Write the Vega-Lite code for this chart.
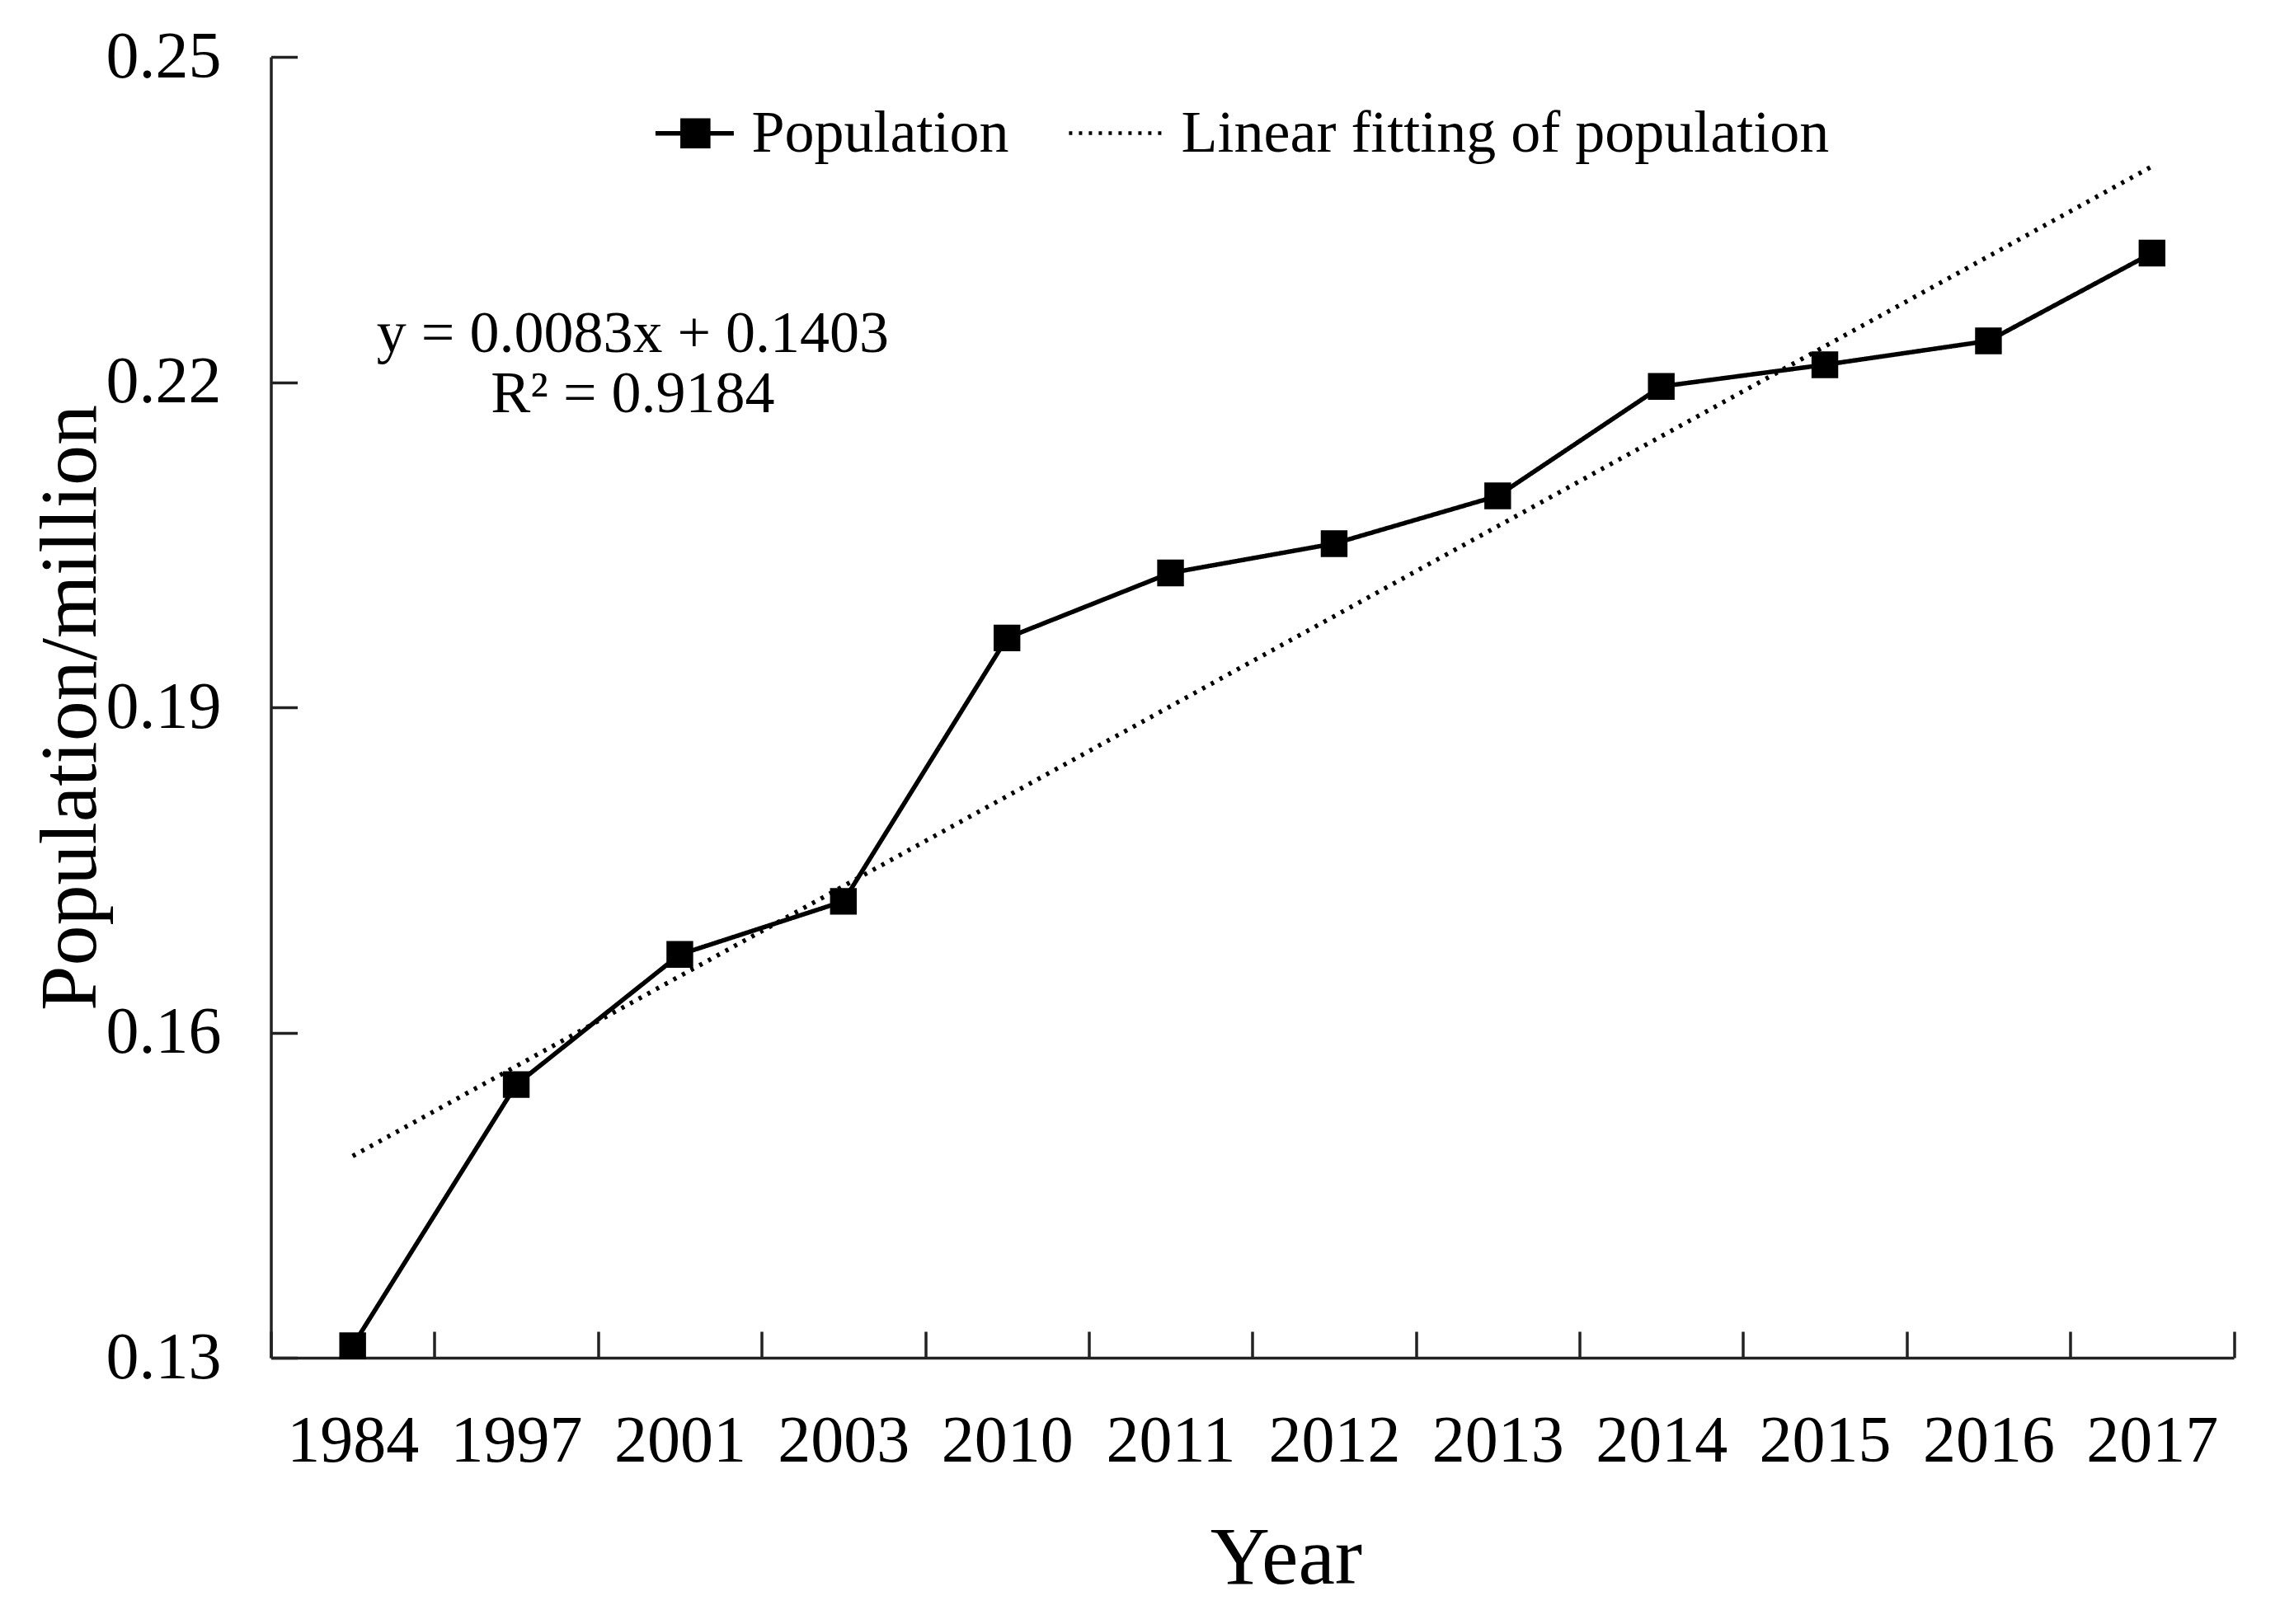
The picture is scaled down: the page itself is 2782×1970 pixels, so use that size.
{
  "$schema": "https://vega.github.io/schema/vega-lite/v6.json",
  "width": 2380.5,
  "height": 1578,
  "autosize": {"type": "none"},
  "padding": {"left": 328.5, "top": 69, "right": 73, "bottom": 323},
  "background": "white",
  "config": {
    "font": "Liberation Serif",
    "view": {"stroke": null},
    "axis": {"grid": false, "labelFont": "Liberation Serif", "titleFont": "Liberation Serif", "labelColor": "black", "titleColor": "black", "titleFontWeight": "normal", "domainColor": "#222", "tickColor": "#222", "domainWidth": 3.5, "tickWidth": 3.5, "labelLimit": 1000}
  },
  "data": {
    "values": [
      {"year": "1984", "series": "Population", "value": 0.1311},
      {"year": "1997", "series": "Population", "value": 0.1552},
      {"year": "2001", "series": "Population", "value": 0.1672},
      {"year": "2003", "series": "Population", "value": 0.1721},
      {"year": "2010", "series": "Population", "value": 0.1964},
      {"year": "2011", "series": "Population", "value": 0.2024},
      {"year": "2012", "series": "Population", "value": 0.2051},
      {"year": "2013", "series": "Population", "value": 0.2095},
      {"year": "2014", "series": "Population", "value": 0.2196},
      {"year": "2015", "series": "Population", "value": 0.2216},
      {"year": "2016", "series": "Population", "value": 0.2238},
      {"year": "2017", "series": "Population", "value": 0.2319},
      {"year": "1984", "series": "Linear fitting of population", "value": 0.1486},
      {"year": "1997", "series": "Linear fitting of population", "value": 0.1569},
      {"year": "2001", "series": "Linear fitting of population", "value": 0.1652},
      {"year": "2003", "series": "Linear fitting of population", "value": 0.1735},
      {"year": "2010", "series": "Linear fitting of population", "value": 0.1818},
      {"year": "2011", "series": "Linear fitting of population", "value": 0.1901},
      {"year": "2012", "series": "Linear fitting of population", "value": 0.1984},
      {"year": "2013", "series": "Linear fitting of population", "value": 0.2067},
      {"year": "2014", "series": "Linear fitting of population", "value": 0.2150},
      {"year": "2015", "series": "Linear fitting of population", "value": 0.2233},
      {"year": "2016", "series": "Linear fitting of population", "value": 0.2316},
      {"year": "2017", "series": "Linear fitting of population", "value": 0.2399}
    ]
  },
  "encoding": {
    "x": {
      "field": "year", "type": "ordinal", "sort": null,
      "scale": {"type": "band", "paddingInner": 0, "paddingOuter": 0},
      "axis": {"title": "Year", "labelAngle": 0, "labelFontSize": 80, "titleFontSize": 100, "tickBand": "extent", "tickSize": -32, "labelPadding": 94, "titleX": 1231, "titleY": 273, "titleBaseline": "alphabetic", "titleAnchor": "start", "titleAlign": "center"}
    },
    "y": {
      "field": "value", "type": "quantitative",
      "scale": {"domain": [0.13, 0.25], "zero": false, "nice": false},
      "axis": {"title": "Population/million", "values": [0.13, 0.16, 0.19, 0.22, 0.25], "format": ".2f", "labelFontSize": 80, "titleFontSize": 98, "tickSize": -32, "labelPadding": 92.5, "titleX": -213.5, "titleBaseline": "alphabetic"}
    }
  },
  "layer": [
    {
      "mark": {"type": "line", "color": "black", "strokeWidth": 5.5},
      "encoding": {
        "strokeDash": {
          "field": "series", "type": "nominal",
          "scale": {"domain": ["Population", "Linear fitting of population"], "range": [[1, 0], [4, 8]]},
          "legend": {
            "orient": "none", "legendX": 443.4, "legendY": 32, "direction": "horizontal", "title": null,
            "symbolSize": 13225, "labelFontSize": 72, "labelFont": "Liberation Serif", "labelColor": "black",
            "labelOffset": 18.6, "columnPadding": 63, "padding": 0, "labelLimit": 2000,
            "symbolStrokeWidth": 5, "symbolStrokeColor": "black",
            "encode": {
              "symbols": {
                "update": {
                  "shape": {"signal": "datum.value === 'Population' ? 'M-0.652,0H1M-0.08,-0.27H0.46V0.27H-0.08Z' : 'M-1,0H1'"},
                  "fill": {"signal": "datum.value === 'Population' ? 'black' : 'transparent'"},
                  "strokeDash": {"signal": "datum.value === 'Population' ? [1, 0] : [4, 8]"},
                  "stroke": {"value": "black"},
                  "strokeWidth": {"signal": "datum.value === 'Population' ? 6 : 4.5"}
                }
              }
            }
          }
        },
        "strokeWidth": {
          "field": "series", "type": "nominal",
          "scale": {"domain": ["Population", "Linear fitting of population"], "range": [5.5, 4.5]},
          "legend": null
        }
      }
    },
    {
      "transform": [{"filter": "datum.series === 'Population'"}],
      "mark": {"type": "point", "shape": "square", "filled": true, "color": "black", "size": 1050, "opacity": 1}
    },
    {
      "data": {
        "values": [
          {"year": "2001", "value": 0.22278, "label": "y = 0.0083x + 0.1403"},
          {"year": "2001", "value": 0.21722, "label": "R² = 0.9184"}
        ]
      },
      "mark": {"type": "text", "align": "center", "baseline": "alphabetic", "dx": -57, "fontSize": 72, "font": "Liberation Serif", "color": "black"},
      "encoding": {"text": {"field": "label"}}
    }
  ]
}
